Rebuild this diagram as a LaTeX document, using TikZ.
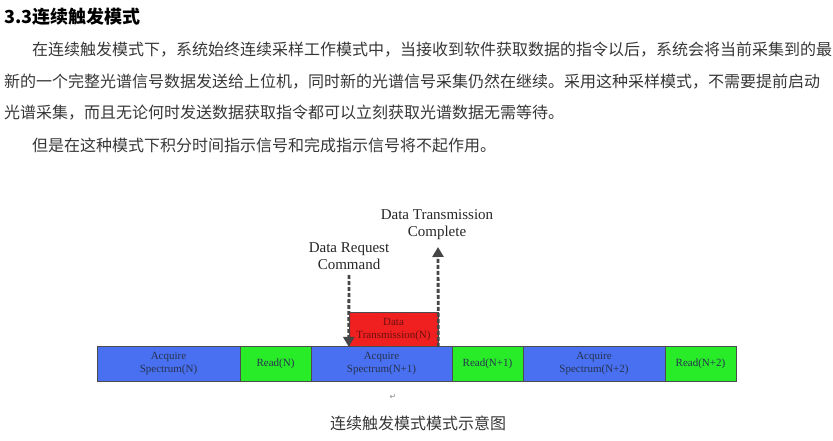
\documentclass[tikz,border=0pt]{standalone}
\usepackage{fontspec}
\setmainfont{Liberation Serif}
\newfontfamily\cjk{Noto Sans CJK SC}
\newfontfamily\symf{DejaVu Sans}
\usetikzlibrary{arrows.meta}
\XeTeXinterchartoks 1 1 = {\hskip 0pt plus 1fil\relax}
\XeTeXinterchartoks 1 3 = {\hskip 0pt plus 1fil\relax}
\XeTeXinterchartoks 3 1 = {\hskip 0pt plus 1fil\relax}
\XeTeXinterchartoks 3 3 = {\hskip 0pt plus 1fil\relax}
\definecolor{txt}{RGB}{55,55,55}
\definecolor{bluebox}{RGB}{72,112,240}
\definecolor{greenbox}{RGB}{40,236,40}
\definecolor{redbox}{RGB}{240,32,32}
\definecolor{boxtxt}{RGB}{40,50,80}
\definecolor{arr}{RGB}{70,70,70}
\tikzset{
  para/.style={anchor=west, inner sep=0pt, text=txt, font=\cjk\fontsize{16}{16}\selectfont},
  seg/.style={draw=black!70, line width=0.6pt, minimum height=35pt, inner sep=0pt, align=center,
              text=boxtxt, font=\fontsize{11}{13}\selectfont},
  acq/.style={seg, fill=bluebox},
  rd/.style={seg, fill=greenbox},
  tx/.style={seg, fill=redbox, text={rgb,255:red,110;green,15;blue,15}},
  lbl/.style={align=center, inner sep=0pt, text=black!85, font=\fontsize{15}{17}\selectfont},
  dasharrow/.style={arr, line width=2.8pt, dash pattern=on 4pt off 2pt,
                    -{Triangle[width=11pt,length=10pt]}}
}
\begin{document}
\begin{tikzpicture}[x=1pt,y=-1pt]
\useasboundingbox (0,0) rectangle (833,441);
\node[anchor=west, inner sep=0pt, text=black, font=\cjk\bfseries\fontsize{18}{18}\selectfont] (head) at (4,17) {3.3连续触发模式};
\node[para] (p1) at (32,50) {\XeTeXinterchartokenstate=1 \hbox to 800pt{在连续触发模式下，系统始终连续采样工作模式中，当接收到软件获取数据的指令以后，系统会将当前采集到的最}};
\node[para] (p2) at (4,81.5) {新的一个完整光谱信号数据发送给上位机，同时新的光谱信号采集仍然在继续。采用这种采样模式，不需要提前启动};
\node[para] (p3) at (4,113) {光谱采集，而且无论何时发送数据获取指令都可以立刻获取光谱数据无需等待。};
\node[para] (p4) at (32,145) {但是在这种模式下积分时间指示信号和完成指示信号将不起作用。};

\node[acq, minimum width=143pt] (a1) at (168.5,364) {Acquire\\Spectrum(N)};
\node[rd,  minimum width=71pt]  (r1) at (275.5,364) {Read(N)};
\node[acq, minimum width=141pt] (a2) at (381.5,364) {Acquire\\Spectrum(N+1)};
\node[rd,  minimum width=71pt]  (r2) at (487.5,364) {Read(N+1)};
\node[acq, minimum width=142pt] (a3) at (594,364) {Acquire\\Spectrum(N+2)};
\node[rd,  minimum width=71pt]  (r3) at (700.5,364) {Read(N+2)};

\node[tx, minimum width=89pt, minimum height=34pt] (t1) at (393.5,329.5) {Data\\Transmission(N)};

\coordinate (dtop) at (349,275);
\coordinate (utop) at (438,247);
\draw[dasharrow] (dtop) -- (t1.south west);
\draw[dasharrow] (t1.south east) -- (utop);

\node[lbl] (lreq) at (349,256.5) {Data Request\\Command};
\node[lbl] (lcomp) at (437,224.5) {Data Transmission\\Complete};

\node[inner sep=0pt, text=black!45, font=\symf\fontsize{8}{8}\selectfont] (ret) at (393,397) {↵};
\node[inner sep=0pt, text=txt, font=\cjk\fontsize{16}{16}\selectfont] (cap) at (418,423.5) {连续触发模式模式示意图};
\end{tikzpicture}
\end{document}
